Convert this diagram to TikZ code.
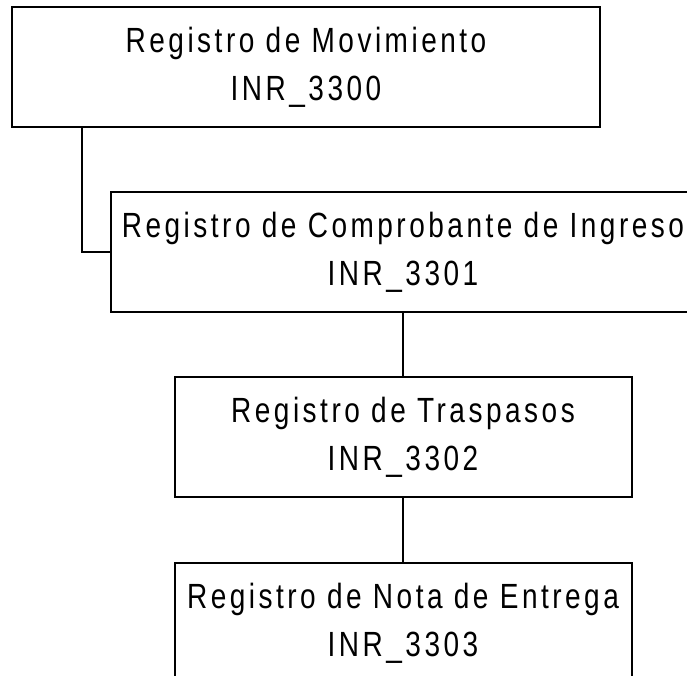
\documentclass[tikz,border=0pt]{standalone}
\usepackage{fontspec}
\setmainfont{Liberation Sans}[FakeStretch=0.8, LetterSpace=10]
\usepackage{tikz}
\usetikzlibrary{positioning}

\tikzset{
  caja/.style={draw, line width=2pt, rectangle, align=center,
    minimum height=120pt, font=\fontsize{35}{48}\selectfont},
  linea/.style={line width=2pt}
}

\begin{document}
\begin{tikzpicture}[x=1pt, y=-1pt]
\clip (0,0) rectangle (687,675);

% Nodos
\node [caja, minimum width=588pt] at (306,67) (n1) {Registro de Movimiento \\ INR\_3300};
\node [caja, minimum width=584pt] at (403,252) (n2) {Registro de Comprobante de Ingreso \\ INR\_3301};
\node [caja, minimum width=457pt, below=63pt of n2] (n3) {Registro de Traspasos \\ INR\_3302};
\node [caja, minimum width=457pt, below=64pt of n3] (n4) {Registro de Nota de Entrega \\ INR\_3303};

% Conexiones
\coordinate [xshift=71pt] (c1) at (n1.south west);
\draw[linea] (c1) |- (n2.west);
\draw[linea] (n2.south) -- (n3.north);
\draw[linea] (n3.south) -- (n4.north);

\end{tikzpicture}
\end{document}
